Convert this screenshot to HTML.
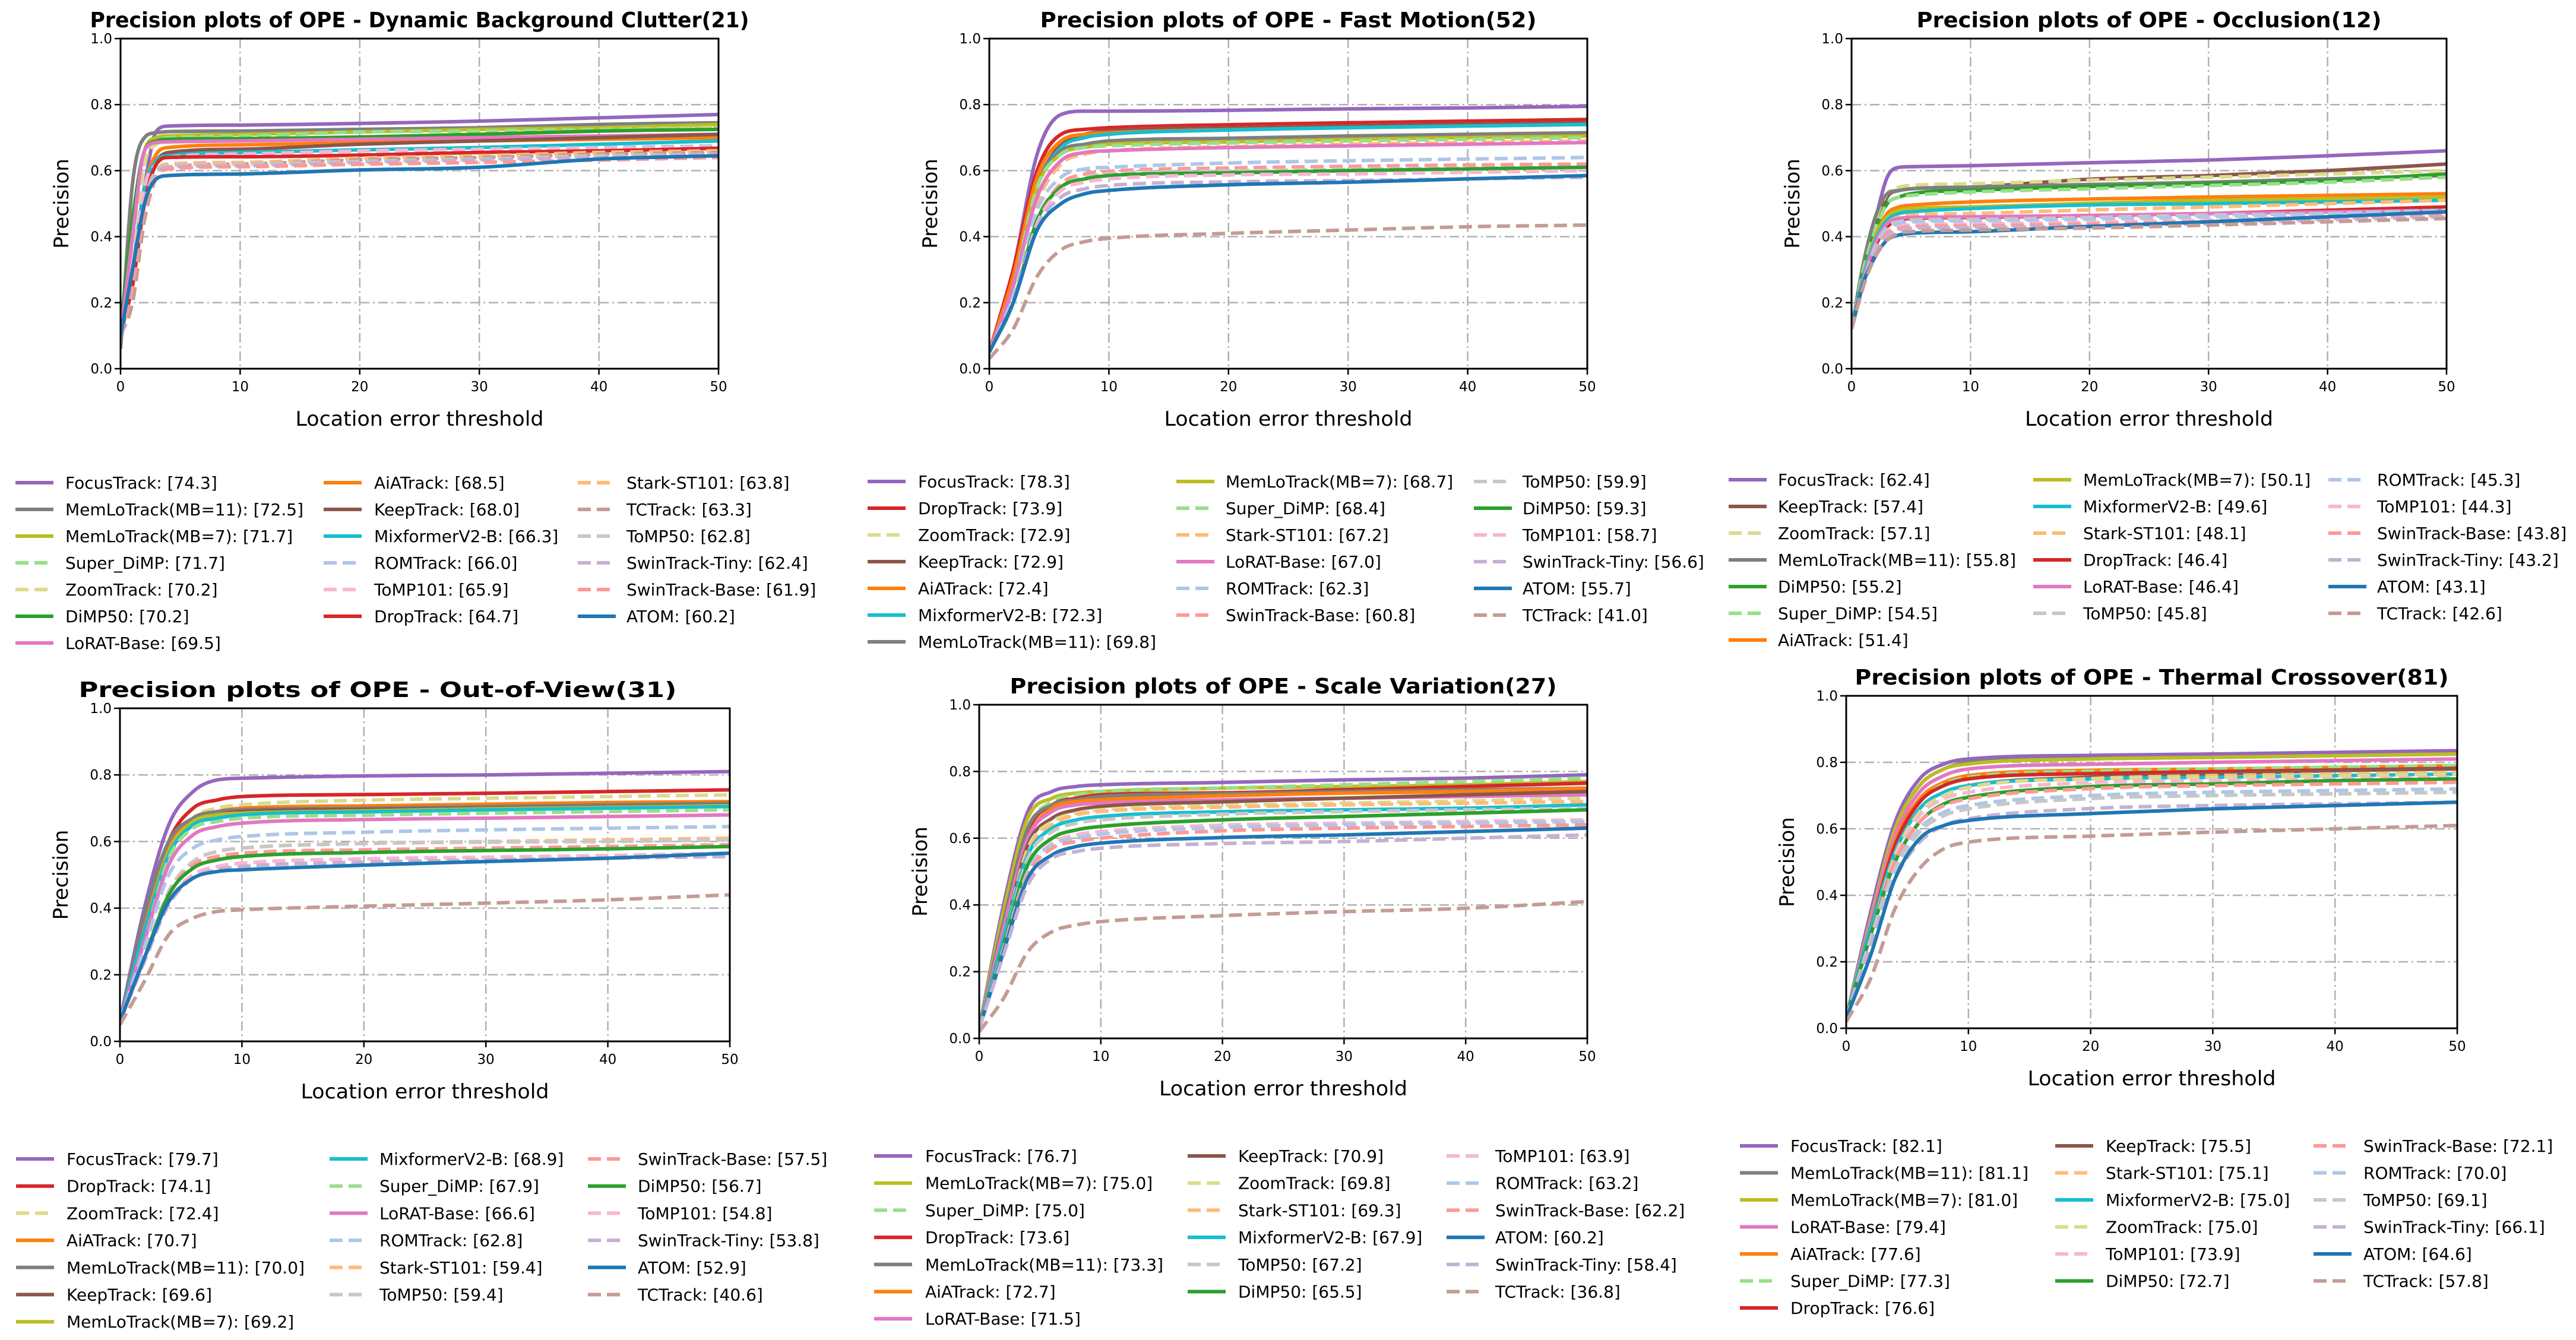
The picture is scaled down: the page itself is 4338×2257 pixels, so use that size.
<!DOCTYPE html>
<html><head><meta charset="utf-8"><title>Precision plots of OPE</title>
<style>
html,body{margin:0;padding:0;background:#fff;}
svg{display:block;font-family:"DejaVu Sans","Liberation Sans",sans-serif;}
</style></head>
<body>
<svg id="fig" xmlns="http://www.w3.org/2000/svg" width="4338" height="2257" viewBox="0 0 4338 2257">
<rect x="0" y="0" width="4338" height="2257" fill="#fff"/>
</svg>
<script>
// ---------- shared data ----------
const xTicks = [0, 10, 20, 30, 40, 50];
const yTicks = [0.0, 0.2, 0.4, 0.6, 0.8, 1.0];
const yTickLabels = ["0.0", "0.2", "0.4", "0.6", "0.8", "1.0"];

// ---------- Panel 1: Dynamic Background Clutter ----------
const p1Names = ["FocusTrack","MemLoTrack(MB=11)","MemLoTrack(MB=7)","Super_DiMP","ZoomTrack","DiMP50","LoRAT-Base","AiATrack","KeepTrack","MixformerV2-B","ROMTrack","ToMP101","DropTrack","Stark-ST101","TCTrack","ToMP50","SwinTrack-Tiny","SwinTrack-Base","ATOM"];
const p1Scores = ["74.3","72.5","71.7","71.7","70.2","70.2","69.5","68.5","68.0","66.3","66.0","65.9","64.7","63.8","63.3","62.8","62.4","61.9","60.2"];
const p1Thresh = [0,1,2,3,4,10,20,30,40,50];
const p1Values = [
 [.08,.30,.55,.72,.735,.738,.743,.75,.76,.77],
 [.06,.56,.70,.715,.718,.72,.725,.73,.74,.745],
 [.10,.45,.66,.70,.705,.71,.717,.725,.73,.74],
 [.10,.42,.65,.69,.70,.705,.717,.72,.725,.73],
 [.10,.35,.62,.68,.69,.695,.702,.71,.72,.73],
 [.12,.45,.66,.69,.695,.697,.702,.71,.72,.725],
 [.10,.40,.66,.685,.687,.69,.695,.70,.705,.71],
 [.10,.30,.55,.65,.67,.678,.685,.69,.695,.70],
 [.10,.30,.55,.63,.655,.665,.68,.69,.70,.71],
 [.10,.30,.55,.63,.645,.655,.663,.67,.68,.69],
 [.10,.30,.55,.62,.64,.65,.66,.665,.67,.675],
 [.10,.30,.55,.62,.64,.65,.659,.663,.666,.67],
 [.12,.25,.50,.62,.64,.642,.647,.655,.66,.668],
 [.10,.25,.50,.60,.62,.625,.638,.645,.655,.66],
 [.10,.20,.45,.58,.61,.62,.633,.64,.65,.655],
 [.10,.25,.50,.60,.615,.62,.628,.635,.645,.65],
 [.10,.25,.50,.59,.61,.615,.624,.632,.64,.65],
 [.10,.25,.48,.58,.605,.612,.619,.625,.632,.64],
 [.10,.30,.50,.575,.585,.59,.602,.61,.635,.645]
];

// ---------- Panel 2: Fast Motion ----------
const p2Names = ["FocusTrack","DropTrack","ZoomTrack","KeepTrack","AiATrack","MixformerV2-B","MemLoTrack(MB=11)","MemLoTrack(MB=7)","Super_DiMP","Stark-ST101","LoRAT-Base","ROMTrack","SwinTrack-Base","ToMP50","DiMP50","ToMP101","SwinTrack-Tiny","ATOM","TCTrack"];
const p2Scores = ["78.3","73.9","72.9","72.9","72.4","72.3","69.8","68.7","68.4","67.2","67.0","62.3","60.8","59.9","59.3","58.7","56.6","55.7","41.0"];
const p2Thresh = [0,2,4,6,8,10,20,30,40,50];
const p2Values = [
 [.05,.30,.65,.77,.78,.78,.783,.787,.79,.795],
 [.05,.30,.60,.71,.725,.73,.739,.745,.75,.755],
 [.05,.25,.55,.68,.71,.72,.729,.735,.74,.745],
 [.05,.25,.55,.68,.71,.72,.729,.735,.74,.745],
 [.05,.28,.58,.69,.71,.715,.724,.73,.735,.74],
 [.05,.25,.55,.67,.70,.71,.723,.73,.735,.74],
 [.05,.25,.55,.66,.68,.69,.698,.705,.71,.715],
 [.05,.25,.55,.65,.67,.68,.687,.695,.70,.705],
 [.05,.25,.55,.65,.67,.675,.684,.69,.695,.70],
 [.05,.22,.50,.62,.65,.66,.672,.68,.685,.69],
 [.05,.25,.52,.63,.655,.66,.670,.675,.68,.685],
 [.05,.22,.48,.58,.605,.61,.623,.63,.635,.64],
 [.05,.20,.45,.56,.59,.598,.608,.613,.617,.62],
 [.05,.20,.45,.55,.58,.59,.599,.604,.607,.61],
 [.05,.20,.45,.55,.575,.585,.593,.60,.605,.61],
 [.05,.20,.44,.54,.565,.575,.587,.59,.595,.60],
 [.05,.20,.43,.52,.545,.555,.566,.57,.575,.58],
 [.05,.20,.42,.50,.53,.54,.557,.565,.575,.585],
 [.03,.12,.28,.36,.385,.395,.41,.42,.43,.435]
];

// ---------- Panel 3: Occlusion ----------
const p3Names = ["FocusTrack","KeepTrack","ZoomTrack","MemLoTrack(MB=11)","DiMP50","Super_DiMP","AiATrack","MemLoTrack(MB=7)","MixformerV2-B","Stark-ST101","DropTrack","LoRAT-Base","ToMP50","ROMTrack","ToMP101","SwinTrack-Base","SwinTrack-Tiny","ATOM","TCTrack"];
const p3Scores = ["62.4","57.4","57.1","55.8","55.2","54.5","51.4","50.1","49.6","48.1","46.4","46.4","45.8","45.3","44.3","43.8","43.2","43.1","42.6"];
const p3Thresh = [0,1,2,3,4,5,10,20,30,40,50];
const p3Values = [
 [.12,.30,.45,.58,.61,.612,.615,.624,.632,.645,.66],
 [.12,.30,.42,.52,.54,.545,.55,.574,.585,.60,.62],
 [.12,.30,.45,.53,.55,.555,.56,.571,.58,.59,.60],
 [.12,.32,.46,.53,.54,.545,.55,.558,.565,.575,.585],
 [.12,.30,.42,.50,.52,.53,.54,.552,.56,.57,.59],
 [.12,.30,.42,.50,.52,.525,.535,.545,.555,.565,.58],
 [.12,.28,.40,.47,.49,.495,.505,.514,.52,.525,.53],
 [.12,.28,.40,.46,.48,.485,.49,.501,.51,.515,.52],
 [.12,.28,.39,.45,.47,.475,.485,.496,.50,.505,.51],
 [.12,.27,.38,.44,.46,.465,.47,.481,.49,.50,.51],
 [.12,.26,.37,.43,.45,.455,.458,.464,.47,.48,.49],
 [.12,.27,.38,.44,.455,.458,.46,.464,.47,.475,.48],
 [.12,.26,.37,.43,.445,.45,.452,.458,.465,.47,.48],
 [.12,.26,.36,.42,.44,.445,.448,.453,.46,.47,.48],
 [.12,.25,.35,.41,.43,.435,.438,.443,.45,.46,.47],
 [.12,.25,.35,.41,.425,.43,.433,.438,.445,.455,.465],
 [.12,.25,.35,.40,.42,.425,.428,.432,.44,.45,.46],
 [.12,.26,.34,.39,.405,.41,.415,.431,.445,.46,.475],
 [.12,.25,.34,.39,.41,.415,.42,.426,.435,.445,.455]
];

// ---------- Panel 4: Out-of-View ----------
const p4Names = ["FocusTrack","DropTrack","ZoomTrack","AiATrack","MemLoTrack(MB=11)","KeepTrack","MemLoTrack(MB=7)","MixformerV2-B","Super_DiMP","LoRAT-Base","ROMTrack","Stark-ST101","ToMP50","SwinTrack-Base","DiMP50","ToMP101","SwinTrack-Tiny","ATOM","TCTrack"];
const p4Scores = ["79.7","74.1","72.4","70.7","70.0","69.6","69.2","68.9","67.9","66.6","62.8","59.4","59.4","57.5","56.7","54.8","53.8","52.9","40.6"];
const p4Thresh = [0,2,4,6,8,10,20,30,40,50];
const p4Values = [
 [.06,.40,.65,.75,.785,.79,.797,.80,.805,.81],
 [.06,.35,.60,.70,.725,.735,.741,.745,.75,.755],
 [.06,.30,.55,.67,.70,.71,.724,.73,.735,.74],
 [.06,.35,.58,.67,.69,.70,.707,.712,.717,.72],
 [.06,.38,.60,.67,.69,.695,.70,.705,.71,.715],
 [.06,.33,.56,.65,.68,.69,.696,.70,.705,.71],
 [.06,.33,.57,.66,.68,.685,.692,.698,.703,.708],
 [.06,.33,.56,.65,.67,.68,.689,.695,.70,.705],
 [.06,.30,.55,.64,.66,.67,.679,.685,.69,.695],
 [.06,.30,.53,.62,.645,.655,.666,.67,.675,.68],
 [.06,.28,.50,.58,.605,.615,.628,.635,.64,.645],
 [.06,.25,.45,.54,.57,.58,.594,.60,.605,.61],
 [.06,.25,.45,.54,.57,.58,.594,.598,.60,.605],
 [.06,.25,.44,.53,.555,.565,.575,.58,.585,.59],
 [.06,.25,.44,.52,.545,.555,.567,.573,.578,.585],
 [.06,.24,.42,.50,.525,.535,.548,.553,.558,.565],
 [.06,.24,.41,.49,.515,.525,.538,.545,.55,.555],
 [.06,.25,.42,.49,.51,.515,.529,.54,.55,.565],
 [.05,.18,.32,.37,.39,.395,.406,.415,.425,.44]
];

// ---------- Panel 5: Scale Variation ----------
const p5Names = ["FocusTrack","MemLoTrack(MB=7)","Super_DiMP","DropTrack","MemLoTrack(MB=11)","AiATrack","LoRAT-Base","KeepTrack","ZoomTrack","Stark-ST101","MixformerV2-B","ToMP50","DiMP50","ToMP101","ROMTrack","SwinTrack-Base","ATOM","SwinTrack-Tiny","TCTrack"];
const p5Scores = ["76.7","75.0","75.0","73.6","73.3","72.7","71.5","70.9","69.8","69.3","67.9","67.2","65.5","63.9","63.2","62.2","60.2","58.4","36.8"];
const p5Thresh = [0,2,4,6,8,10,20,30,40,50];
const p5Values = [
 [.03,.40,.68,.74,.755,.76,.767,.775,.78,.79],
 [.03,.38,.66,.72,.735,.74,.75,.755,.76,.77],
 [.03,.35,.63,.71,.73,.74,.75,.76,.77,.78],
 [.03,.33,.62,.70,.72,.73,.736,.745,.755,.765],
 [.03,.35,.63,.70,.715,.725,.733,.74,.745,.75],
 [.03,.33,.60,.69,.71,.715,.727,.735,.74,.75],
 [.03,.33,.60,.68,.70,.705,.715,.72,.725,.73],
 [.03,.30,.58,.66,.685,.695,.709,.72,.73,.74],
 [.03,.30,.57,.65,.675,.685,.698,.705,.712,.72],
 [.03,.30,.56,.64,.67,.68,.693,.70,.705,.71],
 [.03,.30,.55,.63,.655,.665,.679,.685,.69,.70],
 [.03,.28,.54,.62,.645,.655,.672,.68,.685,.69],
 [.03,.28,.52,.60,.625,.635,.655,.665,.675,.685],
 [.03,.27,.50,.585,.61,.62,.639,.645,.65,.655],
 [.03,.27,.50,.58,.60,.612,.632,.64,.645,.65],
 [.03,.26,.49,.57,.59,.60,.622,.63,.635,.64],
 [.03,.26,.48,.55,.575,.585,.602,.61,.62,.63],
 [.03,.25,.46,.54,.56,.57,.584,.59,.60,.61],
 [.02,.12,.26,.32,.34,.35,.368,.38,.39,.41]
];

// ---------- Panel 6: Thermal Crossover ----------
const p6Names = ["FocusTrack","MemLoTrack(MB=11)","MemLoTrack(MB=7)","LoRAT-Base","AiATrack","Super_DiMP","DropTrack","KeepTrack","Stark-ST101","MixformerV2-B","ZoomTrack","ToMP101","DiMP50","SwinTrack-Base","ROMTrack","ToMP50","SwinTrack-Tiny","ATOM","TCTrack"];
const p6Scores = ["82.1","81.1","81.0","79.4","77.6","77.3","76.6","75.5","75.1","75.0","75.0","73.9","72.7","72.1","70.0","69.1","66.1","64.6","57.8"];
const p6Thresh = [0,2,4,6,8,10,20,30,40,50];
const p6Values = [
 [.03,.35,.62,.75,.795,.81,.821,.825,.83,.835],
 [.03,.33,.60,.73,.78,.80,.811,.815,.82,.825],
 [.03,.33,.60,.73,.78,.795,.81,.815,.82,.825],
 [.03,.32,.58,.71,.76,.78,.794,.80,.805,.81],
 [.03,.30,.56,.69,.74,.76,.776,.78,.785,.79],
 [.03,.30,.55,.68,.735,.755,.773,.78,.785,.79],
 [.03,.30,.55,.68,.73,.75,.766,.772,.777,.782],
 [.03,.30,.53,.66,.71,.73,.755,.765,.775,.78],
 [.03,.28,.52,.65,.70,.725,.751,.76,.765,.77],
 [.03,.30,.53,.66,.71,.73,.75,.755,.76,.765],
 [.03,.28,.52,.65,.70,.725,.75,.755,.76,.765],
 [.03,.28,.51,.64,.69,.71,.739,.745,.75,.755],
 [.03,.28,.50,.62,.675,.695,.727,.735,.745,.75],
 [.03,.27,.50,.62,.67,.69,.721,.73,.735,.74],
 [.03,.27,.48,.60,.65,.67,.70,.71,.715,.72],
 [.03,.26,.47,.59,.64,.66,.691,.70,.705,.71],
 [.03,.25,.45,.56,.61,.63,.661,.67,.675,.68],
 [.03,.22,.45,.57,.61,.625,.646,.66,.67,.68],
 [.02,.15,.36,.48,.54,.56,.578,.59,.60,.61]
];

// ---------- styles ----------
const COLORS = {"FocusTrack":"#9467bd","MemLoTrack(MB=11)":"#7f7f7f","MemLoTrack(MB=7)":"#bcbd22","Super_DiMP":"#98df8a","ZoomTrack":"#dbdb8d","DiMP50":"#2ca02c","LoRAT-Base":"#e377c2","AiATrack":"#ff7f0e","KeepTrack":"#8c564b","MixformerV2-B":"#17becf","ROMTrack":"#aec7e8","ToMP101":"#f7b6d2","DropTrack":"#d62728","Stark-ST101":"#ffbb78","TCTrack":"#c49c94","ToMP50":"#c7c7c7","SwinTrack-Tiny":"#c5b0d5","SwinTrack-Base":"#ff9896","ATOM":"#1f77b4"};
const DASHED = ["Super_DiMP","ZoomTrack","ROMTrack","ToMP101","Stark-ST101","TCTrack","ToMP50","SwinTrack-Tiny","SwinTrack-Base"];

const panels = [
 {id:"p1",title:"Precision plots of OPE - Dynamic Background Clutter(21)",tl:1110,tx:null,L:203,R:1210,T:65,B:621,names:p1Names,scores:p1Scores,thresh:p1Thresh,values:p1Values,legY:813,legDY:45,cols:[[26,110],[545,630],[973,1055]]},
 {id:"p2",title:"Precision plots of OPE - Fast Motion(52)",tl:836,tx:null,L:1666,R:2673,T:65,B:621,names:p2Names,scores:p2Scores,thresh:p2Thresh,values:p2Values,legY:811,legDY:45,cols:[[1461,1546],[1981,2064],[2482,2564]]},
 {id:"p3",title:"Precision plots of OPE - Occlusion(12)",tl:783,tx:null,L:3118,R:4120,T:65,B:621,names:p3Names,scores:p3Scores,thresh:p3Thresh,values:p3Values,legY:808,legDY:45,cols:[[2911,2994],[3424,3508],[3921,4003]]},
 {id:"p4",title:"Precision plots of OPE - Out-of-View(31)",tl:1007,tx:636,L:202,R:1229,T:1193,B:1754,names:p4Names,scores:p4Scores,thresh:p4Thresh,values:p4Values,legY:1952,legDY:45.7,cols:[[27,112],[555,639],[990,1074]]},
 {id:"p5",title:"Precision plots of OPE - Scale Variation(27)",tl:921,tx:null,L:1649,R:2673,T:1187,B:1749,names:p5Names,scores:p5Scores,thresh:p5Thresh,values:p5Values,legY:1947,legDY:45.7,cols:[[1472,1558],[2000,2085],[2436,2518]]},
 {id:"p6",title:"Precision plots of OPE - Thermal Crossover(81)",tl:1000,tx:null,L:3109,R:4138,T:1172,B:1732,names:p6Names,scores:p6Scores,thresh:p6Thresh,values:p6Values,legY:1930,legDY:45.5,cols:[[2930,3015],[3461,3546],[3896,3980]]}
];

const NS = "http://www.w3.org/2000/svg";
const svg = document.getElementById("fig");
function mk(tag, attrs, parent){
  const e = document.createElementNS(NS, tag);
  for (const k in attrs) e.setAttribute(k, attrs[k]);
  (parent||svg).appendChild(e);
  return e;
}
function monoPath(px, py){
  const n = px.length, d = [], m = new Array(n);
  for (let i=0;i<n-1;i++) d.push((py[i+1]-py[i])/(px[i+1]-px[i]));
  m[0]=d[0]; m[n-1]=d[n-2];
  for (let i=1;i<n-1;i++) m[i] = (d[i-1]*d[i]<=0)?0:(d[i-1]+d[i])/2;
  for (let i=0;i<n-1;i++){
    if (d[i]===0){m[i]=0;m[i+1]=0;continue;}
    const a=m[i]/d[i], b=m[i+1]/d[i], s=a*a+b*b;
    if (s>9){const t=3/Math.sqrt(s); m[i]=t*a*d[i]; m[i+1]=t*b*d[i];}
  }
  let p = "M"+px[0].toFixed(1)+","+py[0].toFixed(1);
  for (let i=0;i<n-1;i++){
    const h=px[i+1]-px[i];
    p += " C"+(px[i]+h/3).toFixed(1)+","+(py[i]+m[i]*h/3).toFixed(1)+" "+(px[i+1]-h/3).toFixed(1)+","+(py[i+1]-m[i+1]*h/3).toFixed(1)+" "+px[i+1].toFixed(1)+","+py[i+1].toFixed(1);
  }
  return p;
}

panels.forEach(P => {
  const xs = v => P.L + (v/50)*(P.R-P.L);
  const ys = v => P.B - v*(P.B-P.T);
  const g = mk("g", {});
  
  

  const titleX = (P.tx!==null) ? P.tx : (P.L+P.R)/2;
  const title = mk("text", {x:titleX, y:P.T-19, "text-anchor":"middle", "font-size":36, "font-weight":"bold", fill:"#000", textLength:P.tl, lengthAdjust:"spacingAndGlyphs"}, g);
  title.textContent = P.title;
  
  

  // grid
  const grid = mk("g", {stroke:"#b0b0b0", "stroke-width":2.5, "stroke-dasharray":"16 6 3 6"}, g);
  
  
  xTicks.forEach(t => { if (t>0 && t<50) mk("line",{x1:xs(t),x2:xs(t),y1:P.T,y2:P.B},grid); });
  yTicks.forEach(t => { if (t>0 && t<1) mk("line",{x1:P.L,x2:P.R,y1:ys(t),y2:ys(t)},grid); });

  // curves
  const clipId = P.id+"clip";
  const defs = mk("defs",{},g);
  const cp = mk("clipPath",{id:clipId},defs);
  mk("rect",{x:P.L,y:P.T-4,width:P.R-P.L,height:P.B-P.T+4},cp);
  const curves = mk("g",{"clip-path":"url(#"+clipId+")", fill:"none"}, g);
  
  
  P.names.forEach((name, i) => {
    const vals = P.values[i];
    const px = P.thresh.map(xs), py = vals.map(ys);
    const path = mk("path", {d:monoPath(px,py), stroke:COLORS[name], "stroke-width":6, "stroke-linecap":"butt", "stroke-linejoin":"round"}, curves);
    if (DASHED.indexOf(name)>=0) path.setAttribute("stroke-dasharray","22 10");
    
    
  });

  // frame
  const frame = mk("rect",{x:P.L,y:P.T,width:P.R-P.L,height:P.B-P.T,fill:"none",stroke:"#000","stroke-width":3}, g);
  
  

  // ticks
  const xt = mk("g",{"font-size":23, fill:"#000", "text-anchor":"middle"}, g);
  
  
  xTicks.forEach(t => {
    mk("line",{x1:xs(t),x2:xs(t),y1:P.B,y2:P.B+10,stroke:"#000","stroke-width":2.5},xt);
    const tx = mk("text",{x:xs(t),y:P.B+38},xt); tx.textContent = String(t);
  });
  const yt = mk("g",{"font-size":23, fill:"#000", "text-anchor":"end"}, g);
  
  
  yTicks.forEach((t,k) => {
    mk("line",{x1:P.L-10,x2:P.L,y1:ys(t),y2:ys(t),stroke:"#000","stroke-width":2.5},yt);
    const tx = mk("text",{x:P.L-14,y:ys(t)+8},yt); tx.textContent = yTickLabels[k];
  });

  const xl = mk("text",{x:(P.L+P.R)/2,y:P.B+96,"text-anchor":"middle","font-size":34,fill:"#000",textLength:418,lengthAdjust:"spacingAndGlyphs"},g);
  xl.textContent = "Location error threshold";
  
  
  const cy = (P.T+P.B)/2, cx = P.L-100;
  const yl = mk("text",{x:cx,y:cy+12,"text-anchor":"middle","font-size":34,fill:"#000",transform:"rotate(-90 "+cx+" "+cy+")"},g);
  yl.textContent = "Precision";
  
  

  // legend
  const leg = mk("g",{}, g);
  
  
  P.names.forEach((name, i) => {
    let col, row;
    if (i<7){col=0;row=i;} else if (i<13){col=1;row=i-7;} else {col=2;row=i-13;}
    const y = P.legY + row*P.legDY;
    const [lx, tx] = P.cols[col];
    const entry = mk("g",{}, leg);
    
    
    const ln = mk("line",{x1:lx,x2:lx+64,y1:y,y2:y,stroke:COLORS[name],"stroke-width":6},entry);
    if (DASHED.indexOf(name)>=0) ln.setAttribute("stroke-dasharray","22 10");
    const t = mk("text",{x:tx,y:y+10,"font-size":28,fill:"#000"},entry);
    t.textContent = name+": ["+P.scores[i]+"]";
  });
});
</script>
</body></html>
